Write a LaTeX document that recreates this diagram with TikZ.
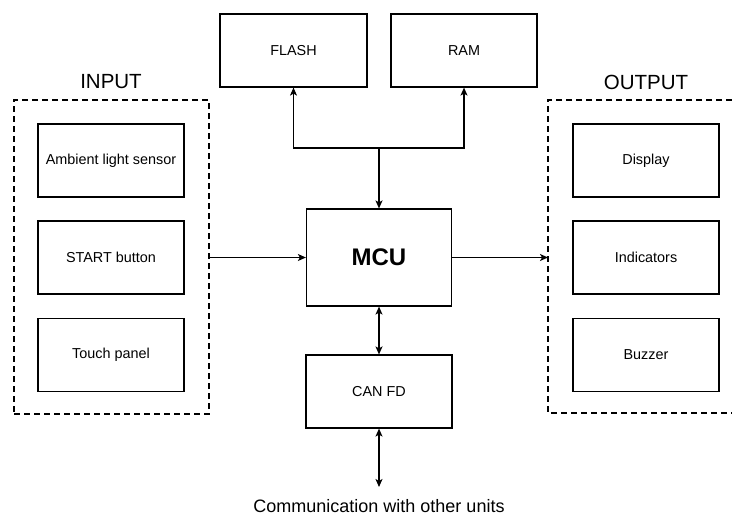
\documentclass[tikz,border=0pt]{standalone}
\usepackage{fontspec}
\setmainfont{Liberation Sans}
\usetikzlibrary{arrows.meta}
\begin{document}
\begin{tikzpicture}[x=1pt,y=-1pt,
  blockbox/.style={draw, line width=1.2pt, minimum width=146pt, minimum height=73pt, inner sep=0pt, font=\fontsize{14.4}{17}\selectfont},
  groupbox/.style={draw, line width=2.2pt, dash pattern=on 6pt off 4pt},
  grouplabel/.style={font=\fontsize{20.5}{24}\selectfont},
  arr/.style={line width=1.2pt, -{Stealth[length=8pt,width=7pt,inset=2pt]}},
  darr/.style={line width=1.2pt, {Stealth[length=8pt,width=7pt,inset=2pt]}-{Stealth[length=8pt,width=7pt,inset=2pt]}}
]
\useasboundingbox (0,0) rectangle (732,515);

% top memories
\node[blockbox, minimum width=147pt] (flash) at (293.5,50.5) {FLASH};
\node[blockbox] (ram) at (464,50.5) {RAM};

% MCU and CAN
\node[blockbox, minimum width=145pt, minimum height=97pt, font=\fontsize{24}{28}\selectfont\bfseries] (mcu) at (379,257.5) {MCU};
\node[blockbox] (can) at (379,391.5) {CAN FD};

% input group
\node[groupbox, minimum width=195pt, minimum height=314pt, inner sep=0pt] (input) at (111.5,257) {};
\node[grouplabel] (inlabel) at (111,82) {INPUT};
\node[blockbox] (als) at (111,160.5) {Ambient light sensor};
\node[blockbox] (start) at (111,257.5) {START button};
\node[blockbox] (touch) at (111,355) {Touch panel};

% output group (open at right edge)
\coordinate (otl) at (732,100);
\coordinate (oleft) at (548,257.5);
\coordinate (obr) at (732,413);
\draw[groupbox] (otl) -- (548,100) -- (548,413) -- (obr);
\node[grouplabel] (outlabel) at (646,82) {OUTPUT};
\node[blockbox] (disp) at (646,160.5) {Display};
\node[blockbox] (ind) at (646,257.5) {Indicators};
\node[blockbox] (buz) at (646,355) {Buzzer};

% connectors
\coordinate (j) at (379,148);
\draw[arr] (j) -- (mcu.north);
\draw[arr] (j) -| (flash.south);
\draw[arr] (j) -| (ram.south);
\draw[arr] (input.east |- mcu.west) -- (mcu.west);
\draw[arr] (mcu.east) -- (oleft);
\draw[darr] (mcu.south) -- (can.north);
\coordinate (cend) at (379,487);
\draw[darr] (can.south) -- (cend);
\node[font=\fontsize{18}{21}\selectfont, inner sep=0pt, anchor=base] (comm) at (379,512.5) {Communication with other units};
\end{tikzpicture}
\end{document}
